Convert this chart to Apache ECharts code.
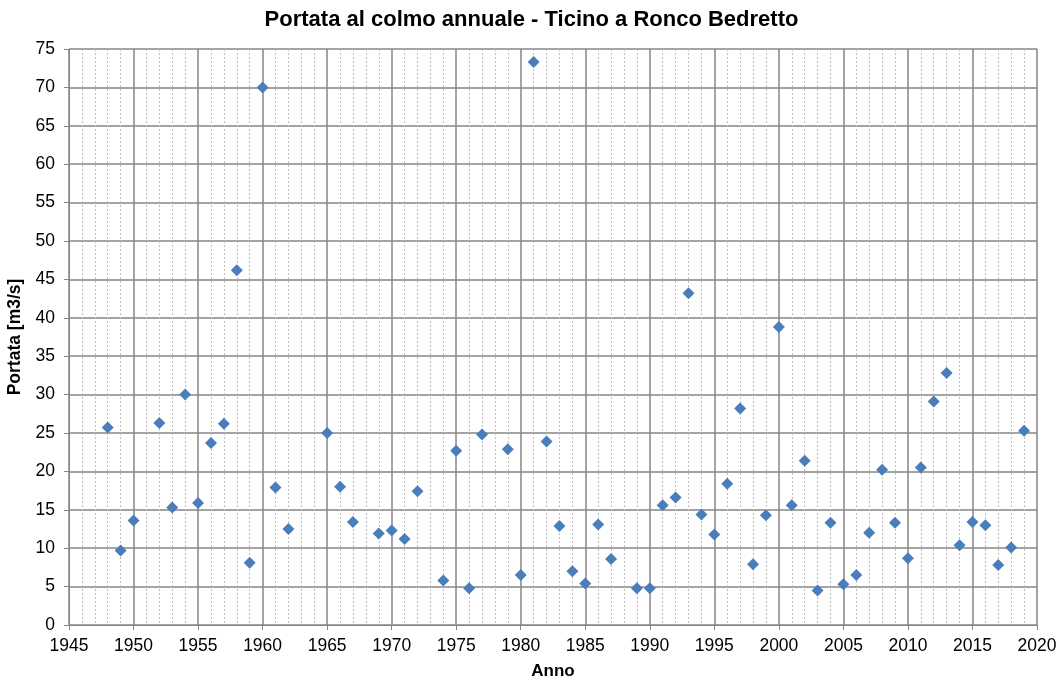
<!DOCTYPE html>
<html>
<head>
<meta charset="utf-8">
<script src="https://cdn.jsdelivr.net/npm/echarts@6/dist/echarts.min.js"></script>
<style>html,body{margin:0;padding:0;background:#fff}#c{width:1063px;height:679px}</style>
</head>
<body>
<div id="c"></div>
<script>
const years = [1948,1949,1950,1952,1953,1954,1955,1956,1957,1958,1959,1960,1961,1962,
  1965,1966,1967,1969,1970,1971,1972,1974,1975,1976,1977,1979,1980,1981,1982,1983,1984,
  1985,1986,1987,1989,1990,1991,1992,1993,1994,1995,1996,1997,1998,1999,2000,2001,2002,
  2003,2004,2005,2006,2007,2008,2009,2010,2011,2012,2013,2014,2015,2016,2017,2018,2019];
const portata = [25.7,9.7,13.6,26.3,15.3,30.0,15.9,23.7,26.2,46.2,8.1,70.0,17.9,12.5,
  25.0,18.0,13.4,11.9,12.3,11.2,17.4,5.8,22.7,4.8,24.8,22.9,6.5,73.3,23.9,12.9,7.0,
  5.4,13.1,8.6,4.8,4.8,15.6,16.6,43.2,14.4,11.8,18.4,28.2,7.9,14.3,38.8,15.6,21.4,
  4.5,13.3,5.3,6.5,12.0,20.2,13.3,8.7,20.5,29.1,32.8,10.4,13.4,13.0,7.8,10.1,25.3];
const titleText = 'Portata al colmo annuale - Ticino a Ronco Bedretto';
const xName = 'Anno';
const yName = 'Portata [m3/s]';

const points = years.map((y, i) => [y, portata[i]]);
const font = 'Liberation Sans, Arial, sans-serif';
const chart = echarts.init(document.getElementById('c'), null, {renderer: 'canvas'});
chart.setOption({
  animation: false,
  backgroundColor: '#fff',
  title: {
    text: titleText, left: 'center', top: 4,
    textStyle: {fontFamily: font, fontSize: 22, fontWeight: 'bold', color: '#000'}
  },
  grid: {left: 69, right: 26, top: 49, bottom: 54, containLabel: false, outerBoundsMode: 'none'},
  xAxis: {
    type: 'value', min: 1945, max: 2020, interval: 5,
    name: xName, nameLocation: 'middle', nameGap: 38,
    nameTextStyle: {fontFamily: font, fontSize: 17, fontWeight: 'bold', color: '#000'},
    axisLine: {show: true, lineStyle: {color: '#868686', width: 1}},
    axisTick: {show: true, length: 5, inside: false, lineStyle: {color: '#868686'}},
    axisLabel: {fontFamily: font, fontSize: 17.5, color: '#000', margin: 12,
      formatter: v => String(v)},
    splitLine: {show: true, lineStyle: {color: '#868686', width: 1.5}},
    minorTick: {show: false, splitNumber: 5},
    minorSplitLine: {show: true, lineStyle: {color: '#bdbdbd', width: 1, type: [2, 2]}}
  },
  yAxis: {
    type: 'value', min: 0, max: 75, interval: 5,
    name: yName, nameLocation: 'middle', nameGap: 41, nameRotate: 90,
    nameTextStyle: {fontFamily: font, fontSize: 17.5, fontWeight: 'bold', color: '#000'},
    axisLine: {show: true, lineStyle: {color: '#868686', width: 1}},
    axisTick: {show: true, length: 5, inside: false, lineStyle: {color: '#868686'}},
    axisLabel: {fontFamily: font, fontSize: 17.5, color: '#000', margin: 14},
    splitLine: {show: true, lineStyle: {color: '#868686', width: 1.5}}
  },
  series: [{
    type: 'scatter', data: points, symbol: 'diamond', symbolSize: 12,
    itemStyle: {color: '#4A7EBB', opacity: 1}
  }]
});
</script>
</body>
</html>
